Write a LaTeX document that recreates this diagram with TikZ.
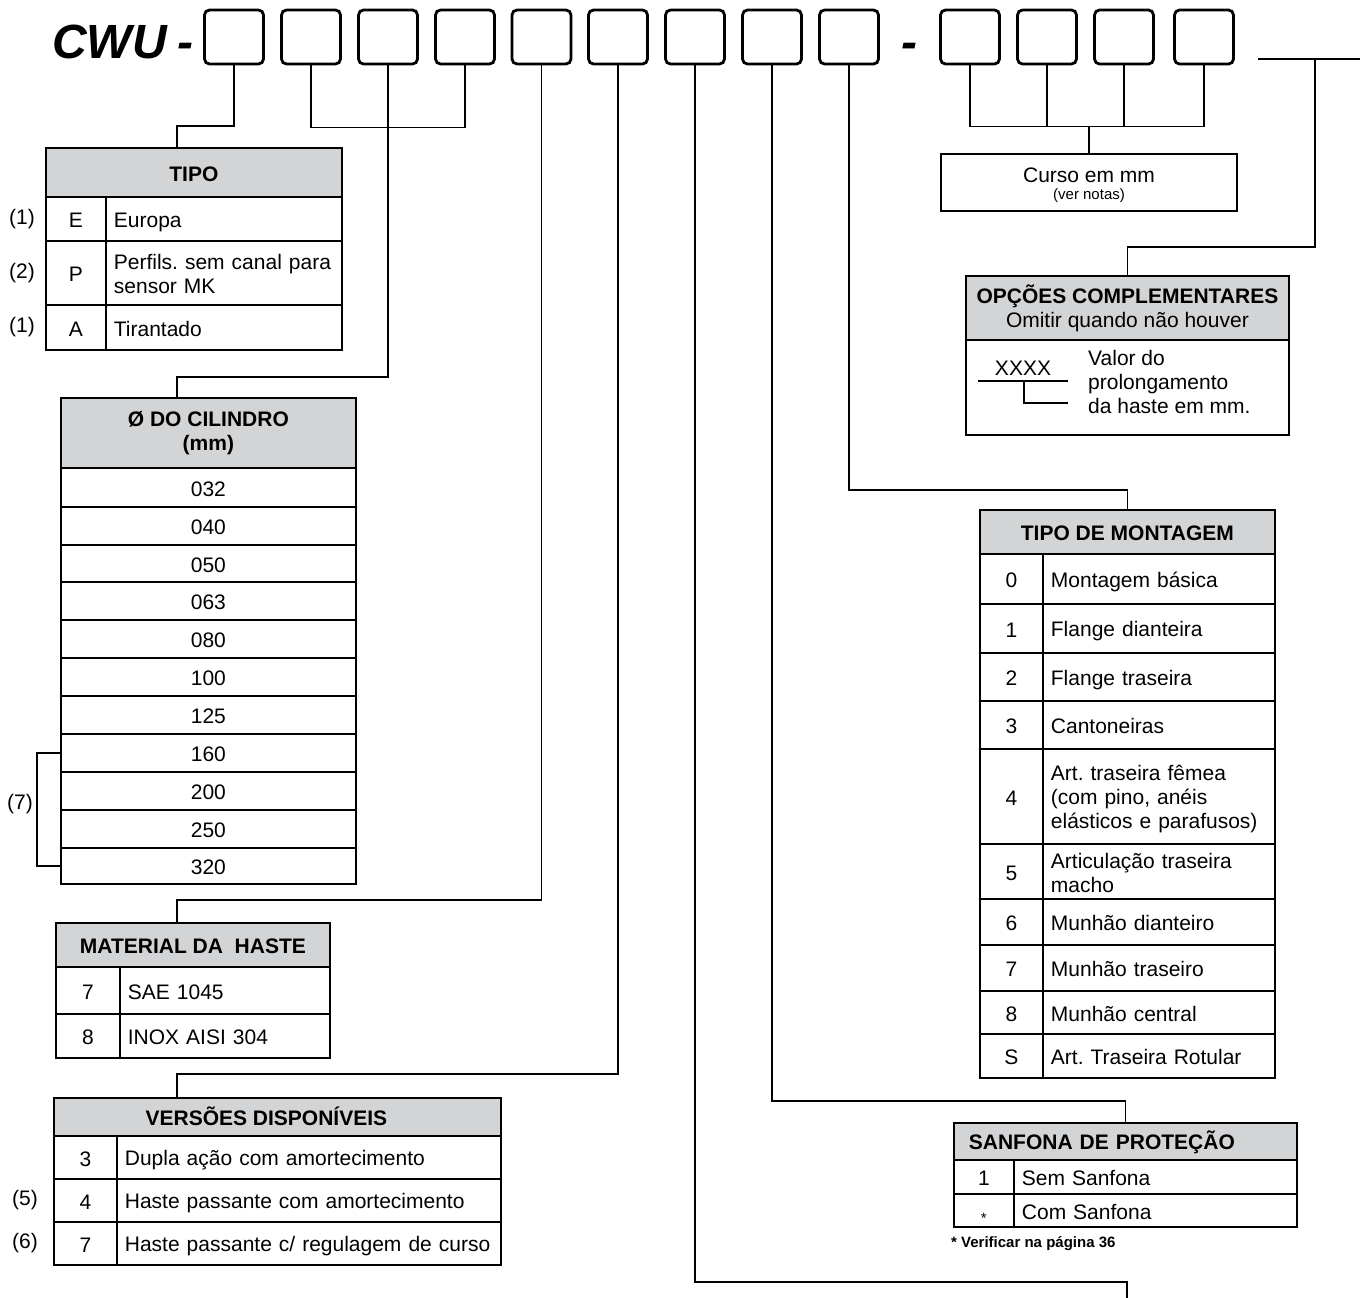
\documentclass[tikz,border=0pt]{standalone}
\usepackage{fontspec}
\setmainfont{Liberation Sans}
\frenchspacing
\definecolor{headgray}{RGB}{211,212,214}
\newcommand{\tabfont}{\fontsize{21}{24}\selectfont}
\newcommand{\smallfont}{\fontsize{15}{17}\selectfont}
\newcommand{\topstrut}{\rule{0pt}{21pt}}
\newcommand{\botstrut}{\rule[-3pt]{0pt}{3pt}}

\tikzset{
  codebox/.style={draw, line width=2.8pt, rounded corners=5pt, minimum width=59pt, minimum height=54pt, inner sep=0pt},
  strutted/.style={execute at begin node=\topstrut, execute at end node=\botstrut},
  headcell/.style={draw, line width=1.8pt, fill=headgray, anchor=north west, inner sep=0pt, align=center, font=\tabfont\bfseries, strutted},
  codecell/.style={draw, line width=1.8pt, anchor=north west, inner sep=0pt, font=\tabfont, strutted},
  desccell/.style={draw, line width=1.8pt, anchor=north west, inner xsep=8pt, inner ysep=0pt, align=left, font=\tabfont, text width=#1, strutted},
  note/.style={font=\tabfont, inner sep=0pt},
  link/.style={line width=1.6pt},
}

\begin{document}
\begin{tikzpicture}[x=1pt, y=-1pt]
    \useasboundingbox (0,0) rectangle (1360,1298);

    % code line
    \node[font=\fontsize{48}{48}\selectfont\bfseries\itshape, anchor=base west, inner sep=0pt] (cwu) at (52,59) {CWU\kern-3pt\ -};
    \foreach \n/\x in {1/234,2/311,3/388,4/465,5/541.5,6/618,7/695,8/772,9/849,10/970,11/1047,12/1124,13/1204}
        \node[codebox] (b\n) at (\x,37) {};
    \node[font=\fontsize{48}{48}\selectfont\bfseries\itshape, anchor=base, inner sep=0pt] (dash) at (909,59) {-};
    \coordinate (opt-a) at (1258,59);
    \coordinate (opt-b) at (1360,59);
    \coordinate (opt-drop) at (1315,59);
    \draw[line width=2.6pt] (opt-a) -- (opt-b);

    % TIPO
    \node[headcell, minimum width=296pt, minimum height=49pt] (tipo) at (45,147) {TIPO};
    \foreach \c/\d/\t/\h/\m in {E/Europa/196/44pt/(1), P/{Perfils. sem canal para\\sensor MK}/240/64pt/(2), A/Tirantado/304/45pt/(1)}{
        \node[codecell, minimum width=60pt, minimum height=\h] (tipo-\c) at (45,\t) {\c};
        \node[desccell=220pt, minimum height=\h] (tipo-\c-d) at (105,\t) {\d};
        \node[note] (tipo-\c-m) at ([xshift=-23pt]tipo-\c.west) {\m};
    }

    % diametro do cilindro
    \node[headcell, minimum width=295pt, minimum height=70pt] (cyl) at (60,397) {Ø DO CILINDRO\\(mm)};
    \foreach \val/\t/\h in {032/467/39pt, 040/506/38pt, 050/544/37pt, 063/581/38pt, 080/619/38pt, 100/657/38pt, 125/695/38pt, 160/733/38pt, 200/771/38pt, 250/809/38pt, 320/847/36pt}
        \node[codecell, minimum width=295pt, minimum height=\h] (cyl-\val) at (60,\t) {\val};
    \draw[link] (cyl-160.west) -- ++(-23,0) |- (cyl-320.west);
    \node[note] (cyl-m) at (20,804) {(7)};

    % material da haste
    \node[headcell, minimum width=274pt, minimum height=44pt] (mat) at (55,922) {MATERIAL DA~~HASTE};
    \foreach \c/\d/\t/\h in {7/SAE 1045/966/47pt, 8/INOX AISI 304/1013/44pt}{
        \node[codecell, minimum width=64pt, minimum height=\h] (mat-\c) at (55,\t) {\c};
        \node[desccell=194pt, minimum height=\h] (mat-\c-d) at (119,\t) {\d};
    }

    % versoes
    \node[headcell, minimum width=447pt, minimum height=38pt] (vers) at (53,1097) {VERSÕES DISPONÍVEIS\hspace*{22pt}};
    \foreach \c/\d/\t/\m in {3/{Dupla ação com amortecimento}/1135/{}, 4/{Haste passante com amortecimento}/1178/(5), 7/{Haste passante c/ regulagem de curso}/1221/(6)}{
        \node[codecell, minimum width=63pt, minimum height=43pt] (vers-\c) at (53,\t) {\c};
        \node[desccell=368pt, minimum height=43pt] (vers-\c-d) at (116,\t) {\d};
        \node[note] (vers-\c-m) at ([xshift=-28pt]vers-\c.west) {\m};
    }

    % curso
    \node[draw, line width=1.8pt, minimum width=296pt, minimum height=57pt, inner sep=0pt] (curso) at (1089,182.5) {};
    \node[note, font=\tabfont] (curso-t) at ([yshift=7.5pt]curso.center) {Curso em mm};
    \node[note, font=\smallfont] (curso-n) at ([yshift=-13.5pt]curso.center) {(ver notas)};

    % opcoes complementares
    \node[headcell, minimum width=323pt, minimum height=64pt] (opc) at (965,275) {OPÇÕES COMPLEMENTARES\\\mdseries Omitir quando não houver};
    \node[draw, line width=1.8pt, anchor=north west, minimum width=323pt, minimum height=95pt, inner sep=0pt] (opc-body) at (965,339) {};
    \node[note, anchor=base] (xxxx) at (1023,375) {XXXX};
    \draw[link] ([xshift=-45pt,yshift=-6pt]xxxx.base) -- ++(90,0);
    \draw[link] ([xshift=1pt,yshift=-6pt]xxxx.base) |- ++(44,22);
    \node[note, align=left, anchor=west] (valor) at (1088,382) {Valor do\\prolongamento\\da haste em mm.};

    % tipo de montagem
    \node[headcell, minimum width=295pt, minimum height=44pt] (mont) at (979,509) {TIPO DE MONTAGEM};
    \foreach \c/\d/\t/\h in {0/Montagem básica/553/50pt, 1/Flange dianteira/603/49pt, 2/Flange traseira/652/48pt, 3/Cantoneiras/700/48pt,
        4/{Art. traseira fêmea\\(com pino, anéis\\elásticos e parafusos)}/748/95pt, 5/{Articulação traseira\\macho}/843/55pt,
        6/Munhão dianteiro/898/46pt, 7/Munhão traseiro/944/46pt, 8/Munhão central/990/43pt, S/Art. Traseira Rotular/1033/44pt}{
        \node[codecell, minimum width=63pt, minimum height=\h] (mont-\c) at (979,\t) {\c};
        \node[desccell=216pt, minimum height=\h] (mont-\c-d) at (1042,\t) {\d};
    }

    % sanfona
    \node[headcell, text width=313pt, inner xsep=15pt, align=left, minimum height=37pt] (sanf) at (953,1122) {SANFONA DE PROTEÇÃO};
    \node[codecell, minimum width=60pt, minimum height=34pt] (sanf-1) at (953,1159) {1};
    \node[desccell=267pt, minimum height=34pt] (sanf-1-d) at (1013,1159) {Sem Sanfona};
    \node[codecell, minimum width=60pt, minimum height=33pt] (sanf-2) at (953,1193) {\raisebox{-5pt}{\smallfont *}};
    \node[desccell=267pt, minimum height=33pt] (sanf-2-d) at (1013,1193) {Com Sanfona};
    \node[note, font=\smallfont\bfseries, anchor=west] (sanf-n) at (951,1244) {* Verificar na página 36};

    % connectors
    \coordinate (tipo-in) at ([xshift=132pt]tipo.north west);
    \coordinate (cyl-in) at ([xshift=117pt]cyl.north west);
    \coordinate (mat-in) at ([xshift=122pt]mat.north west);
    \coordinate (vers-in) at ([xshift=124pt]vers.north west);
    \coordinate (b7-end) at (1127,1302);
    \draw[link] (b1.south) |- ([yshift=21pt]tipo-in) -- (tipo-in);
    \draw[link] (b2.south) -- ([yshift=-62pt]b2.south) -| (b4.south);
    \draw[link] (b3.south) |- ([yshift=20pt]cyl-in) -- (cyl-in);
    \draw[link] (b5.south) |- ([yshift=22pt]mat-in) -- (mat-in);
    \draw[link] (b6.south) |- ([yshift=23pt]vers-in) -- (vers-in);
    \draw[link] (b7.south) |- ([yshift=20pt]b7-end) -- (b7-end);
    \draw[link] (b8.south) |- ([yshift=21pt]sanf.north) -- (sanf.north);
    \draw[link] (b9.south) |- ([yshift=19pt]mont.north) -- (mont.north);
    \coordinate (cbus) at ([yshift=-61pt]b10.south);
    \draw[link] (b10.south) -- (cbus) -| (b13.south);
    \draw[link] (b11.south) -- (b11.south |- cbus);
    \draw[link] (b12.south) -- (b12.south |- cbus);
    \draw[link] (curso.north) -- (curso.north |- cbus);
    \draw[link] (opt-drop) |- ([yshift=28pt]opc.north) -- (opc.north);
\end{tikzpicture}
\end{document}
